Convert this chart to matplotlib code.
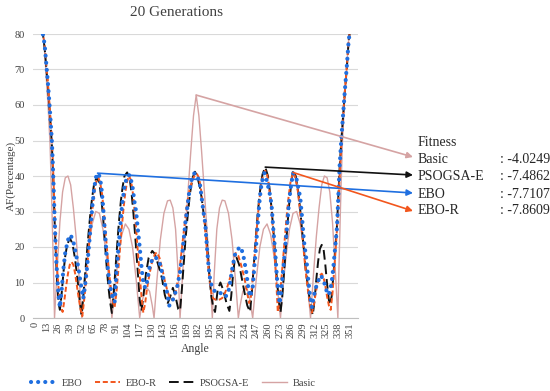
import matplotlib
matplotlib.use("Agg")
import matplotlib.pyplot as plt
from matplotlib.lines import Line2D

plt.rcParams['font.family'] = ['Liberation Serif', 'DejaVu Serif']

# ---------------- data ----------------
basic_angle = [0, 4, 8, 11, 13, 15, 17, 19, 21, 22,
               25, 28, 31, 34, 37, 40, 43, 46, 49, 52.5,
               56, 60, 64, 68, 72, 76, 80, 84, 86,
               89, 93, 97, 101, 105, 109, 113, 117,
               120, 123, 125, 128, 131, 133,
               136, 140, 144, 148, 151, 154, 157, 160, 162,
               165, 168, 171, 174, 177, 180, 183, 186, 189, 192, 195, 198,
               200, 203, 206, 209, 212, 216, 220, 224, 227,
               229, 232, 235, 237, 240, 243,
               247, 251, 255, 259, 263, 267, 271, 274,
               276, 280, 284, 288, 292, 296, 300, 304, 307.5,
               311, 314, 317, 320, 323, 326, 329, 332, 335, 338,
               339, 341, 343, 345, 347, 349, 352, 356, 360]
basic_af = [100, 96, 85, 75, 67, 59, 49, 32, 12, 0,
            14, 27, 35.5, 39.5, 40, 37.5, 31, 23, 13, 0,
            10, 19.5, 26.5, 30, 29.5, 25, 17, 6.5, 0,
            7.5, 17, 23.5, 26.5, 25, 20, 11, 0,
            5, 8, 8.5, 7.5, 3.5, 0,
            10, 22, 29.5, 33, 33.2, 31, 25, 12, 0,
            13, 25, 36, 47, 57, 62.8, 57, 47, 36, 25, 13, 0,
            12, 25, 31, 33.2, 33, 29.5, 22, 10, 0,
            3.5, 7.5, 8.5, 8, 5, 0,
            11, 20, 25, 26.5, 23.5, 17, 7.5, 0,
            6.5, 17, 25, 29.5, 30, 26.5, 19.5, 10, 0,
            13, 23, 31, 37.5, 40, 39.5, 35.5, 27, 14, 0,
            12, 32, 49, 59, 67, 75, 85, 96, 100]

ebo_angle = [0, 4, 9, 11, 13, 15, 17, 19, 20, 21, 22, 23, 24, 25, 26, 27, 28,
             30, 32, 34, 37, 40, 43, 46, 49, 52, 54,
             56, 58, 60, 62, 64, 66, 68, 70, 72, 74, 76, 78, 80, 82, 84, 86, 89,
             91, 93, 95, 97, 100, 103, 106, 109, 111, 113, 115, 117, 119, 121, 123,
             125, 128, 131, 134, 137, 140, 143, 147, 150,
             153, 156, 159, 162, 164, 166, 168, 170, 172, 175, 178, 181, 184, 186,
             188, 190, 192, 194, 196, 199, 203, 208, 212, 215,
             217, 220, 223, 227, 230, 233, 236, 238, 240,
             243, 245, 247, 249, 251, 253, 256, 259, 262, 264, 266, 268, 270, 273,
             275, 277, 279, 281, 283, 285, 288, 292, 296, 298, 300, 303, 305, 307, 309,
             311, 314, 317, 319, 322, 325, 328,
             331, 333, 335, 337, 338.5, 340, 342, 344, 346, 348, 350, 352, 356, 360]
ebo_af = [100, 94, 80, 77, 71, 65, 58, 50, 44, 37, 29, 22, 16, 12, 8, 5, 3,
          8, 14, 18.5, 22, 23.4, 21.5, 18, 13.5, 8.5, 5.5,
          9, 13.5, 19, 25, 31, 36, 39.5, 40.8, 40, 37.5, 32, 25, 18, 12.5, 9, 6.5, 4.5,
          12.7, 19, 24.8, 31, 37, 40, 40.3, 37, 33, 30, 24.8, 20, 14.4, 10, 8.5,
          10, 14.4, 16.5, 17.2, 16.5, 15, 11.5, 7.9, 3.5,
          4.5, 6.5, 9, 13, 17, 22, 27, 31, 35, 39, 40.8, 40, 38, 34,
          30, 26.8, 20, 14, 10, 8, 7, 7, 6, 6.5,
          8.7, 13.5, 17.7, 19.5, 20, 17, 12.7, 8.7, 6,
          8.7, 15, 21, 28, 34, 38, 40.8, 38.5, 35, 32, 25, 19, 11.5, 4,
          8, 13.5, 19, 24.8, 31, 36, 40.8, 39, 34, 28.5, 22, 16.3, 10.7, 6, 3,
          6, 9, 11, 12, 10.7, 7.9, 6.5,
          9.9, 14.4, 20, 25.5, 34, 43, 51, 58, 64.8, 71, 78, 82, 93, 100]

psogsa_angle = [0, 4, 9, 11, 13, 15, 17, 19, 20, 21, 22, 23, 24, 25, 26, 27, 28,
                30, 32, 34, 36, 39, 42, 45, 48, 50, 52,
                54, 56, 58, 60, 62, 64, 66, 69, 72, 74, 76, 78, 80, 82, 84, 86,
                88, 90, 92, 94, 96, 98, 100, 103, 106, 108, 110, 112, 114, 116, 117, 119,
                121, 124, 127, 131, 134, 137, 140, 142, 145, 148, 151, 154, 157, 160, 162,
                164, 166, 168, 170, 173, 176, 178.6, 181, 184, 186, 188, 190, 192, 194,
                195, 197, 199, 201, 204, 207, 210, 214, 217,
                219, 221, 223, 225, 228, 231, 234, 237, 240,
                242, 244, 246, 248, 250, 252, 254, 257, 260, 262, 264, 266, 268, 270, 272, 274,
                276, 278, 280, 282, 284, 286, 288, 291, 294, 296, 298, 300, 302, 305, 308, 310,
                312, 314, 316, 318, 320, 322, 324, 326, 328, 329,
                331, 333, 335, 337, 338.5, 340, 342, 344, 346, 348, 350, 352, 356, 360]
psogsa_af = [100, 94, 80, 76, 70, 64, 57, 49, 43, 36, 28, 21, 15, 10, 6, 3.5, 2.3,
             7, 13, 17.5, 20.5, 22.5, 21, 16.5, 10, 5, 0.8,
             6, 12, 18, 24, 29.5, 34, 37.5, 39.7, 38, 34, 29, 22, 15, 9, 4.5, 1.4,
             7, 14, 21, 27.5, 33, 37, 40, 41, 39, 35, 29.5, 23, 16, 9, 5, 2,
             6, 12.5, 17, 18.9, 18, 15.5, 13, 11, 6.5, 4, 6, 8.5, 6, 2.5, 2,
             8, 15, 22, 27.5, 35, 39.5, 41.2, 40, 37, 34, 30, 26, 21, 14,
             10.7, 6, 3, 1.7, 8, 10, 8, 4, 2,
             6, 12, 16.5, 17, 15, 11, 7, 3.5, 1.7,
             7, 14, 21, 27.5, 33, 37.5, 40.5, 42.5, 40, 36, 31, 25, 18, 11, 5, 1.5,
             6, 13, 20, 27, 33, 38, 41.5, 40, 35, 30.5, 25, 19.5, 14, 8, 3, 0.8,
             5, 11, 16, 19.5, 20.6, 19.5, 15, 9.5, 5, 3.7,
             6, 12, 19, 26, 34, 42.5, 50.5, 57.5, 64.5, 70.5, 78, 82, 93, 100]

ebor_angle = [0, 4, 9, 11, 13, 15, 17, 19, 20, 21, 22, 23, 24, 25, 26, 27, 28, 30, 31,
              33, 35, 37, 39, 41, 43, 45, 47, 49, 51, 53,
              55, 57, 59, 61, 63, 65, 67, 69, 71, 73, 75, 77, 79, 81, 83, 85, 87, 89,
              91, 93, 95, 97, 99, 101, 103, 105, 107, 109, 111, 113, 115, 117, 119, 121,
              123, 125, 128, 131, 134, 136, 139, 142, 145, 148, 151, 154,
              157, 160, 162, 164, 166, 168, 170, 173, 176, 179, 181, 183, 185, 187, 189,
              191, 193, 195, 197, 199, 203, 206, 209, 212, 215, 218, 221, 224, 227, 230,
              234, 237, 239, 241, 243, 245, 247, 249, 251, 253, 255, 257, 259, 261, 263,
              265, 267, 269, 271, 273, 275, 277, 279, 281, 283, 285, 288, 290, 293, 295,
              297, 299, 301, 303, 305, 307, 309, 311, 313, 315, 318, 320, 322, 324, 326,
              328, 330, 332, 334, 336, 338, 340, 342, 344, 346, 348, 350, 352, 356, 360]
ebor_af = [100, 94, 80, 77, 71, 65, 58, 51, 45, 38, 31, 24, 18, 13.5, 10, 7, 5, 2.5, 1.7,
           5, 9, 12.5, 15, 15.8, 15, 12.5, 9, 5.5, 2.5, 0.5,
           5, 10, 16, 22, 27.5, 32.5, 36.5, 39, 39.5, 38, 35, 30, 24, 18, 12.5, 8, 4.5, 3,
           7, 13, 19.5, 25.5, 31, 35.5, 38.5, 40, 39, 36, 31, 25, 18.5, 12, 6, 1.5,
           4, 8, 12.5, 16, 18, 18.5, 17, 14, 10.5, 7.5, 5.5, 5,
           7, 11.5, 15, 19.5, 24, 28.5, 32.5, 36.5, 39, 40.5, 40.5, 39.5, 37, 33, 28,
           22, 15.5, 10.5, 7, 5.5, 5, 5.2, 5.6, 7, 9, 11.5, 15.5, 18.3, 17.5, 15,
           11, 7, 4.2, 6, 11, 17, 23.5, 29.5, 34.5, 38.5, 40.5, 41.5, 40.5, 37.5, 33,
           27, 20, 12, 1.7, 5, 11, 17, 23, 29, 34, 38, 41, 40, 36.5, 32,
           27, 21.5, 16, 11, 7, 3.5, 1.5, 3.5, 6.5, 9.5, 12, 12.5, 11.5, 9, 6,
           3.5, 2.3, 7, 14, 21, 29, 40, 50, 57.5, 64.5, 71, 78, 82, 93, 100]

xtick_values = list(range(0, 352, 13))
ytick_values = [0, 10, 20, 30, 40, 50, 60, 70, 80]

fitness_names = ['Basic', 'PSOGSA-E', 'EBO', 'EBO-R']
fitness_values = ['-4.0249', '-7.4862', '-7.7107', '-7.8609']
# start points of the annotation arrows (angle, AF)
arrow_start_angle = [180, 257, 70, 288]
arrow_start_af = [62.8, 42.5, 40.8, 41]

# ---------------- styling ----------------
c_ebo = '#1f6fe0'
c_ebor = '#f2561d'
c_pso = '#111111'
c_basic = '#d5a3a3'
W, H = 550, 391

fig = plt.figure(figsize=(W / 100, H / 100), dpi=100)
ax = fig.add_axes([33 / W, 1 - 318 / H, (357.6 - 33) / W, (318 - 34) / H])

ax.plot(basic_angle, basic_af, color=c_basic, lw=1.0, zorder=2)
ax.plot(psogsa_angle, psogsa_af, color=c_pso, lw=1.4, linestyle=(0, (5, 2.5)), zorder=3)
ax.plot(ebor_angle, ebor_af, color=c_ebor, lw=1.4, linestyle=(0, (2.6, 1.4)), zorder=4)
ax.plot(ebo_angle, ebo_af, color=c_ebo, lw=3.0, linestyle=(0, (0.01, 1.7)),
        dash_capstyle='round', zorder=5)

ax.set_xlim(-2, 360)
ax.set_ylim(0, 80)
ax.set_yticks(ytick_values)
ax.set_xticks(xtick_values)
ax.set_xticklabels([str(v) for v in xtick_values], rotation=90, fontsize=7.5)
ax.tick_params(axis='y', labelsize=7.5, length=0, pad=6, colors='#404040')
ax.tick_params(axis='x', length=0, pad=3, colors='#404040')
ax.grid(axis='y', color='#d9d9d9', lw=0.8)
ax.set_axisbelow(True)
for s in ['top', 'right', 'left']:
    ax.spines[s].set_visible(False)
ax.spines['bottom'].set_color('#bfbfbf')
ax.spines['bottom'].set_linewidth(0.8)

ax.set_xlabel('Angle', fontsize=8.5, color='#404040', labelpad=4)
ax.set_ylabel('AF(Percentage)', fontsize=8, color='#404040')
ax.yaxis.set_label_coords(-0.054, 0.5)
fig.text(177 / W, 1 - 12 / H, '20 Generations', ha='center', va='center',
         fontsize=11, color='#404040')

# Fitness block and arrows
fig.text(418 / W, 1 - 143 / H, 'Fitness', ha='left', va='center', fontsize=10, color='#262626')
row_y = [160, 176, 194, 211]
arrow_end_y = [157, 175, 193, 211]
arrow_cols = [c_basic, c_pso, c_ebo, c_ebor]
for name, val, ry, ey, col, sa, sv in zip(fitness_names, fitness_values, row_y,
                                        arrow_end_y, arrow_cols,
                                        arrow_start_angle, arrow_start_af):
    fig.text(418 / W, 1 - ry / H, name, ha='left', va='center', fontsize=10, color='#262626')
    fig.text(500 / W, 1 - ry / H, ': ' + val, ha='left', va='center', fontsize=10, color='#262626')
    ax.annotate('', xy=(413 / W, 1 - ey / H), xycoords='figure fraction',
                xytext=(sa, sv), textcoords='data',
                arrowprops=dict(arrowstyle='-|>', color=col, lw=1.2,
                                mutation_scale=9, shrinkA=0, shrinkB=0),
                annotation_clip=False, zorder=6)

# legend
handles = [
    Line2D([], [], color=c_ebo, lw=3.0, linestyle=(0, (0.01, 1.7)), dash_capstyle='round'),
    Line2D([], [], color=c_ebor, lw=1.4, linestyle=(0, (2.6, 1.4))),
    Line2D([], [], color=c_pso, lw=1.4, linestyle=(0, (5, 2.5))),
    Line2D([], [], color=c_basic, lw=1.0),
]
fig.legend(handles, ['EBO', 'EBO-R', 'PSOGSA-E', 'Basic'], loc='center left',
           bbox_to_anchor=(22 / W, 1 - 383 / H), ncol=4, frameon=False,
           fontsize=7.5, handlelength=2.4, handletextpad=0.5, columnspacing=1.25,
           labelcolor='#404040')

fig.savefig('out.png', dpi=100)
